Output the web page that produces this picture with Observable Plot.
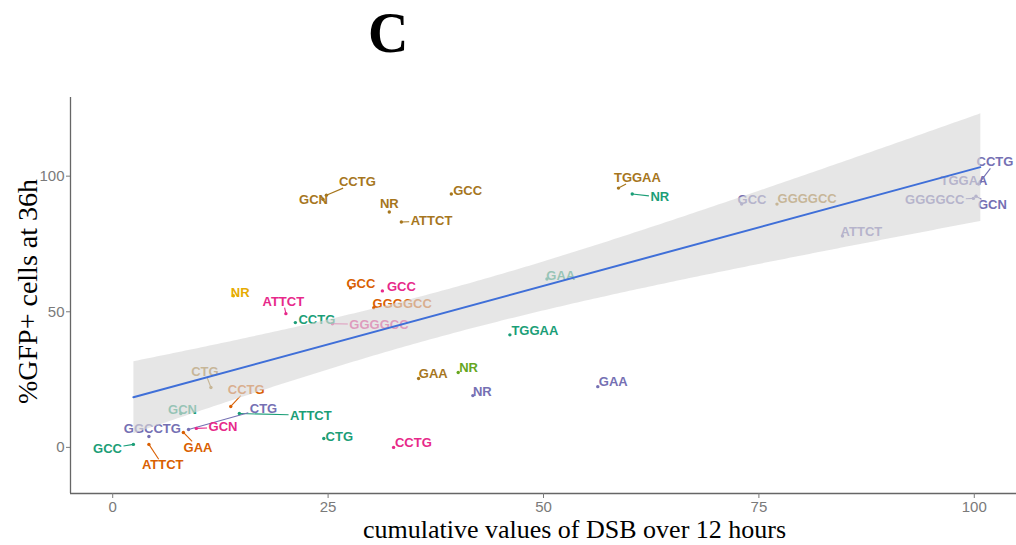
<!DOCTYPE html>
<html><head><meta charset="utf-8">
<script src="https://cdn.jsdelivr.net/npm/d3@7"></script>
<script src="https://cdn.jsdelivr.net/npm/@observablehq/plot@0.6"></script>
<style>
body{margin:0;background:#fff;width:1016px;height:545px;overflow:hidden;position:relative;}
#title{position:absolute;left:368px;top:5px;font:bold 56px "Liberation Serif","Times New Roman",serif;line-height:56px;color:#000;}
#chart{position:absolute;left:0;top:90px;}
</style></head><body>
<div id="title">C</div>
<div id="chart"></div>
<script>
// ---- data ----
const groupNames = ["A", "B", "C", "D", "E", "F", "G", "H"];
const labels  = [
  "GCC","ATTCT","CTG","CCTG","TGGAA","NR","GCN","GAA",
  "ATTCT","GAA","GCC","GGGGCC","CCTG",
  "GGCCTG","CTG","NR","GAA","CCTG","TGGAA","GCN","GGGGCC","ATTCT","GCC",
  "ATTCT","GCC","GCN","CCTG","GGGGCC",
  "NR",
  "NR",
  "GCN","CCTG","NR","ATTCT","GCC","TGGAA","GAA","CTG","GGGGCC"
];
const groups = [
  "A","A","A","A","A","A","A","A",
  "B","B","B","B","B",
  "C","C","C","C","C","C","C","C","C","C",
  "D","D","D","D","D",
  "E",
  "F",
  "G","G","G","G","G","G","G","G","G"
];
const xValues = [
  2.4,14.7,24.5,21.2,46.1,60.3,7.9,50.4,
  4.2,8.2,27.6,30.3,13.7,
  4.2,8.8,41.8,56.3,100.7,100.5,100.2,99.9,84.7,73.0,
  20.1,31.3,9.7,32.6,25.5,
  40.1,
  14.0,
  24.4,24.8,32.1,33.5,39.3,58.7,35.5,11.4,77.1
];
const yValues = [
  1.1,12.5,3.3,46.0,41.5,93.4,12.5,62.1,
  1.1,5.5,58.8,51.5,15.1,
  4.0,6.6,19.1,22.4,98.0,97.1,92.6,91.8,77.9,89.7,
  49.3,57.7,7.0,0.0,45.6,
  27.6,
  55.9,
  91.5,93.0,86.8,83.1,93.4,95.6,25.4,22.1,89.7
];
// repelled label positions (data units)
const labelX = [
  -0.6,23.0,26.3,23.7,49.0,63.5,8.1,52.0,
  5.8,9.9,28.8,33.6,15.5,
  4.6,17.5,42.9,58.1,102.4,98.8,102.1,95.4,86.9,74.2,
  19.8,33.5,12.8,34.9,30.9,
  41.3,
  14.8,
  23.3,28.4,32.1,37.0,41.2,60.9,37.2,10.7,80.6
];
const labelY = [
  -0.4,11.8,4.0,47.1,43.0,92.3,14.0,63.2,
  -6.6,0.0,60.3,52.9,21.3,
  7.0,14.3,20.6,24.3,105.1,98.2,89.3,91.2,79.4,91.2,
  53.7,59.2,7.4,1.8,45.2,
  29.4,
  57.0,
  91.2,97.8,89.7,83.5,94.5,99.3,27.2,27.9,91.5
];
const xTicks = [0, 25, 50, 75, 100];
const yTicks = [0, 50, 100];
const xDomain = [-4.9, 104.9];
const yDomain = [-17, 129];
const xTitle = "cumulative values of DSB over 12 hours";
const yTitle = "%GFP+ cells at 36h";

// ---- build ----
const rows = labels.map((l, i) => ({
  label: l, group: groups[i], x: xValues[i], y: yValues[i], lx: labelX[i], ly: labelY[i]
}));

const labelFont = "Liberation Sans, Arial, Helvetica, sans-serif";
const labelSize = 13;
const serif = "Liberation Serif, Times New Roman, serif";

const base = {
  width: 1016, height: 455,
  marginTop: 7, marginRight: 0, marginBottom: 52, marginLeft: 70,
  x: {domain: xDomain},
  y: {domain: yDomain},
  color: {domain: groupNames, range: d3.schemeDark2}
};

// probe the scales to compute repel segments (point -> label box edge)
const probe = Plot.plot({...base, marks: [Plot.dot(rows, {x: "x", y: "y"})]});
const sx = probe.scale("x"), sy = probe.scale("y");
const ctx = document.createElement("canvas").getContext("2d");
ctx.font = `bold ${labelSize}px ${labelFont}`;
const segs = [];
rows.forEach(r => {
  const px = sx.apply(r.x), py = sy.apply(r.y);
  const cx = sx.apply(r.lx), cy = sy.apply(r.ly);
  const hw = ctx.measureText(r.label).width / 2 + 1.5, hh = 6;
  const dx = px - cx, dy = py - cy;
  if (Math.abs(dx) <= hw && Math.abs(dy) <= hh) return;
  const t = Math.min(dx ? hw / Math.abs(dx) : Infinity, dy ? hh / Math.abs(dy) : Infinity);
  const ex = cx + dx * t, ey = cy + dy * t;
  if (Math.hypot(px - ex, py - ey) < 6) return;
  segs.push({group: r.group, x1: r.x, y1: r.y, x2: sx.invert(ex), y2: sy.invert(ey)});
});

const chart = Plot.plot({
  ...base,
  marks: [
    Plot.link(segs, {x1: "x1", y1: "y1", x2: "x2", y2: "y2", stroke: "group", strokeWidth: 1.1}),
    Plot.dot(rows, {x: "x", y: "y", r: 1.7, fill: "group"}),
    Plot.text(rows, {x: "lx", y: "ly", text: "label", fill: "group",
      fontSize: labelSize, fontWeight: "bold", fontFamily: labelFont}),
    Plot.linearRegressionY(rows, {x: "x", y: "y",
      stroke: "#3f6fd8", strokeWidth: 2, fill: "#d9d9d9", fillOpacity: 0.65}),
    Plot.ruleX([xDomain[0]], {stroke: "#666", strokeWidth: 1.3}),
    Plot.ruleY([yDomain[0]], {stroke: "#666", strokeWidth: 1.3}),
    Plot.axisX({ticks: xTicks, tickSize: 5, tickPadding: 3, fontSize: 15,
      color: "#7a7a7a", label: null, fontFamily: labelFont}),
    Plot.axisY({ticks: yTicks, tickSize: 4, tickPadding: 2, fontSize: 15,
      color: "#7a7a7a", label: null, fontFamily: labelFont}),
    Plot.text([xTitle], {text: d => d, frameAnchor: "bottom", textAnchor: "middle", lineAnchor: "middle",
      dy: 36, dx: 31, fontSize: 26, fontFamily: serif, fill: "#000"}),
    Plot.text([yTitle], {text: d => d, frameAnchor: "left", textAnchor: "middle", lineAnchor: "middle",
      rotate: -90, dx: -42, dy: -4, fontSize: 28, fontFamily: serif, fill: "#000"})
  ]
});
document.getElementById("chart").appendChild(chart);
</script>
</body></html>
